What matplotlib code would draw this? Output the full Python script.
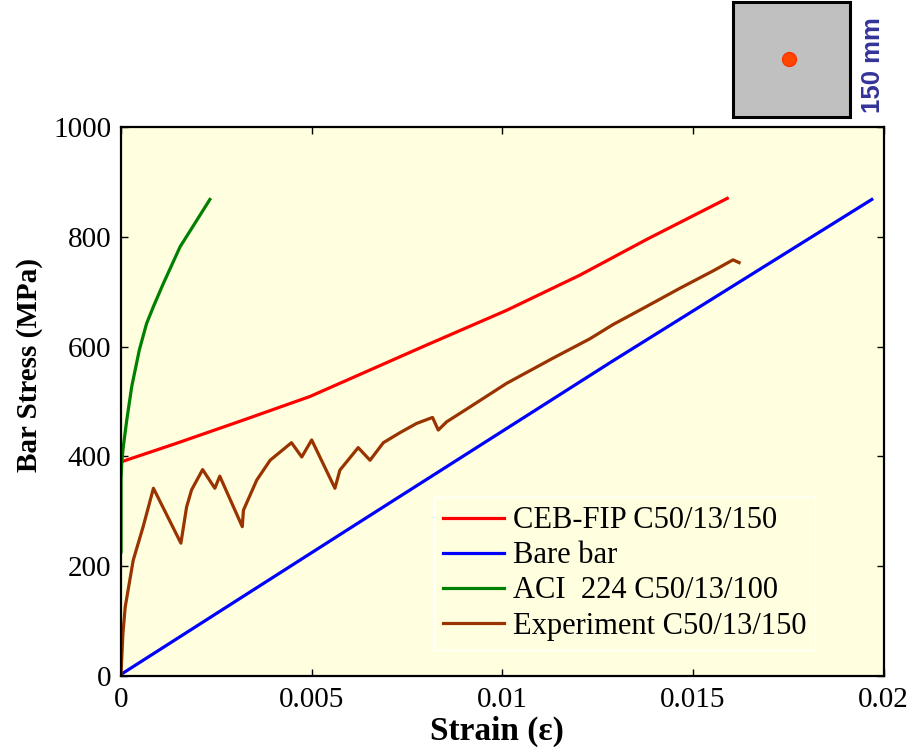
import matplotlib
matplotlib.use("Agg")
import matplotlib.pyplot as plt
from matplotlib.patches import Rectangle

plt.rcParams['font.family'] = ['Liberation Serif', 'DejaVu Serif']

# CEB-FIP C50/13/150
ceb_strain = [0, 0.00146, 0.0032, 0.00495, 0.00792, 0.01011, 0.01203, 0.01378, 0.0159]
ceb_stress = [390, 424, 466, 509, 600, 666, 730, 795, 870]

# Bare bar
bare_strain = [0, 0.00627, 0.0129, 0.01969]
bare_stress = [3, 281, 574, 868]

# ACI 224 C50/13/100
aci_strain = [0, 0, 0.00002, 0.00006, 0.00015, 0.00028, 0.00048, 0.00067, 0.00085, 0.00111,
              0.00155, 0.00185, 0.00233]
aci_stress = [226, 357, 390, 418, 466, 527, 594, 642, 673, 715, 782, 815, 868]

# Experiment C50/13/150
exp_strain = [0, 0.00005, 0.00011, 0.00032, 0.00058, 0.00085, 0.00157, 0.00172, 0.00185,
              0.00214, 0.00246, 0.00259, 0.00318, 0.00321, 0.00356, 0.00391, 0.00447,
              0.00474, 0.00500, 0.00561, 0.00574, 0.00622, 0.00653, 0.00688, 0.00731,
              0.00775, 0.00817, 0.00832, 0.00854, 0.00915, 0.01011, 0.01133, 0.01229,
              0.0129, 0.01378, 0.01465, 0.01553, 0.01605, 0.01621]
exp_stress = [5, 78, 126, 211, 272, 342, 242, 308, 339,
              376, 342, 364, 272, 302, 357, 393, 425,
              399, 430, 342, 375, 416, 393, 425, 443,
              460, 471, 448, 463, 490, 533, 579, 614,
              640, 673, 706, 738, 758, 753]

x_ticks = [0, 0.005, 0.01, 0.015, 0.02]
x_tick_labels = ['0', '0.005', '0.01', '0.015', '0.02']
y_ticks = [0, 200, 400, 600, 800, 1000]

fig = plt.figure(figsize=(9.1, 7.55), dpi=100)
ax = fig.add_axes([0.133, 0.1046, 0.838, 0.7272])
ax.set_facecolor('#ffffe0')

lw = 2.3
ax.plot(ceb_strain, ceb_stress, color='#ff0000', lw=lw, label='CEB-FIP C50/13/150')
ax.plot(bare_strain, bare_stress, color='#0000ff', lw=lw, label='Bare bar')
ax.plot(aci_strain, aci_stress, color='#008000', lw=lw, label='ACI  224 C50/13/100')
ax.plot(exp_strain, exp_stress, color='#993300', lw=lw, label='Experiment C50/13/150')

ax.set_xlim(0, 0.02)
ax.set_ylim(0, 1000)
ax.set_xticks(x_ticks)
ax.set_xticklabels(x_tick_labels)
ax.set_yticks(y_ticks)
ax.tick_params(direction='in', length=5, width=1, top=True, right=True, labelsize=21)
ax.tick_params(axis='x', pad=8)
ax.tick_params(axis='y', pad=7)
for sp in ax.spines.values():
    sp.set_linewidth(1.6)

ax.set_xlabel('Strain (ε)', fontsize=24, fontweight='bold')
ax.set_ylabel('Bar Stress (MPa)', fontsize=21, fontweight='bold')
ax.xaxis.set_label_coords(0.493, -0.073)
ax.yaxis.set_label_coords(-0.102, 0.566)

leg = ax.legend(loc='upper left', bbox_to_anchor=(0.41, 0.326), fontsize=22,
                handlelength=2.0, handletextpad=0.28, labelspacing=0.2,
                borderpad=0.3, borderaxespad=0, fancybox=False, framealpha=1)
leg.get_frame().set_facecolor('#ffffe0')
leg.get_frame().set_edgecolor('white')
leg.get_frame().set_linewidth(1.0)

# cross-section inset
fig.patches.append(Rectangle((0.8055, 0.8454), 0.1286, 0.1515, transform=fig.transFigure,
                             facecolor='#c0c0c0', edgecolor='black', linewidth=2.2))
fig.lines.append(plt.Line2D([0.867], [0.922], transform=fig.transFigure, marker='o',
                            markersize=10, markerfacecolor='#ff4500',
                            markeredgecolor='#ff3300', linestyle='none'))
fig.text(0.959, 0.914, '150 mm', rotation=90, ha='center', va='center',
         fontsize=18.5, fontweight='bold', color='#333399', family='Liberation Sans')

fig.savefig('out.png', dpi=100)
